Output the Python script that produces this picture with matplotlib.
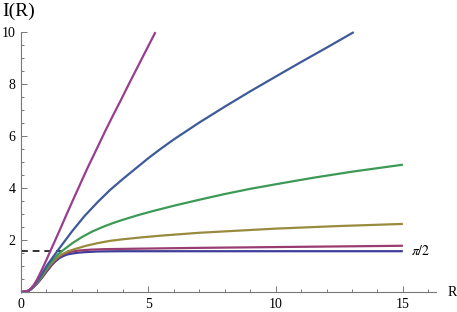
import numpy as np
import matplotlib
matplotlib.use("Agg")
import matplotlib.pyplot as plt
from matplotlib.ticker import MultipleLocator

# Data
r_navy = [0, 0.15, 0.3, 0.4, 0.5, 0.6, 0.7, 0.85, 1.0, 1.1, 1.21, 1.35, 1.5, 1.65, 1.8, 2.0, 2.25, 2.5, 3.0, 3.5, 4.0, 15.0]
i_navy = [0, 0.012, 0.05, 0.11, 0.2, 0.29, 0.4, 0.58, 0.78, 0.9, 1.04, 1.18, 1.3, 1.38, 1.44, 1.48, 1.515, 1.535, 1.56, 1.567, 1.57, 1.571]

r_magenta = [0, 0.15, 0.3, 0.4, 0.5, 0.6, 0.7, 0.85, 1.0, 1.1, 1.2, 1.35, 1.5, 1.65, 1.8, 2.0, 2.3, 2.72, 3.3, 4.0, 5.47, 7.05, 10.0, 12.5, 15.0]
i_magenta = [0, 0.012, 0.05, 0.12, 0.21, 0.31, 0.42, 0.61, 0.82, 0.95, 1.08, 1.23, 1.36, 1.45, 1.51, 1.56, 1.6, 1.63, 1.65, 1.66, 1.68, 1.70, 1.73, 1.755, 1.78]

r_olive = [0, 0.15, 0.3, 0.4, 0.5, 0.6, 0.7, 0.85, 1.0, 1.15, 1.3, 1.45, 1.6, 1.86, 2.2, 2.6, 3.0, 3.5, 4.0, 4.7, 5.5, 7.0, 8.5, 10.0, 12.5, 15.0]
i_olive = [0, 0.012, 0.05, 0.12, 0.22, 0.33, 0.45, 0.65, 0.87, 1.05, 1.22, 1.35, 1.45, 1.57, 1.68, 1.79, 1.88, 1.97, 2.03, 2.1, 2.17, 2.28, 2.36, 2.44, 2.54, 2.62]

r_green = [0, 0.15, 0.3, 0.4, 0.5, 0.6, 0.7, 0.85, 1.0, 1.15, 1.3, 1.45, 1.6, 2.0, 2.4, 2.8, 3.2, 3.6, 4.0, 4.6, 5.2, 6.0, 7.0, 8.0, 9.0, 10.2, 11.5, 13.0, 15.0]
i_green = [0, 0.012, 0.05, 0.12, 0.23, 0.35, 0.48, 0.69, 0.92, 1.12, 1.3, 1.45, 1.57, 1.87, 2.12, 2.33, 2.5, 2.65, 2.78, 2.96, 3.12, 3.32, 3.55, 3.77, 3.97, 4.18, 4.4, 4.63, 4.9]

r_blue = [0, 0.15, 0.3, 0.4, 0.5, 0.6, 0.7, 0.85, 1.0, 1.2, 1.42, 2.0, 2.5, 3.0, 3.5, 4.0, 4.5, 5.0, 5.5, 6.0, 7.0, 8.0, 9.0, 10.2, 11.0, 12.0, 13.07]
i_blue = [0, 0.012, 0.05, 0.13, 0.24, 0.37, 0.52, 0.75, 1.0, 1.27, 1.57, 2.33, 2.93, 3.45, 3.93, 4.35, 4.75, 5.15, 5.52, 5.87, 6.52, 7.13, 7.72, 8.4, 8.85, 9.4, 10.0]

r_purple = [0, 0.15, 0.3, 0.4, 0.5, 0.6, 0.7, 0.8, 0.9, 1.0, 1.14, 1.3, 1.51, 1.76, 2.0, 2.3, 2.6, 2.95, 3.31, 3.6, 3.92, 4.25, 4.6, 4.95, 5.28]
i_purple = [0, 0.015, 0.06, 0.15, 0.27, 0.43, 0.62, 0.82, 1.03, 1.24, 1.55, 1.9, 2.36, 2.92, 3.45, 4.1, 4.75, 5.46, 6.2, 6.77, 7.38, 8.03, 8.7, 9.37, 10.0]

x_ticks = [0, 5, 10, 15]
y_ticks = [2, 4, 6, 8, 10]
dash_end = 2.0
asym = np.pi / 2

colors = {
    "navy": (0.2472, 0.24, 0.6),
    "magenta": (0.6, 0.24, 0.442893),
    "olive": (0.6, 0.547014, 0.24),
    "green": (0.24, 0.6, 0.33692),
    "blue": (0.24, 0.353173, 0.6),
    "purple": (0.6, 0.24, 0.563266),
}

serif = ["Liberation Serif", "DejaVu Serif"]

fig = plt.figure(figsize=(4.57, 3.12), dpi=100)
ax = fig.add_axes([0.046, 0.064, 0.908, 0.833])

ax.plot([0, dash_end], [asym, asym], color="#333333", lw=1.4, ls=(0, (3.5, 2.5)), zorder=1, clip_on=False)

series = [
    (r_navy, i_navy, "navy"),
    (r_magenta, i_magenta, "magenta"),
    (r_olive, i_olive, "olive"),
    (r_green, i_green, "green"),
    (r_blue, i_blue, "blue"),
    (r_purple, i_purple, "purple"),
]
for r, v, c in series:
    ax.plot(r, v, color=colors[c], lw=1.6, zorder=2, clip_on=False,
            solid_capstyle="butt", solid_joinstyle="round")

ax.set_xlim(0, 16.3)
ax.set_ylim(0, 10)
ax.spines["top"].set_visible(False)
ax.spines["right"].set_visible(False)
for s in ("left", "bottom"):
    ax.spines[s].set_color("#777777")
    ax.spines[s].set_linewidth(0.8)

ax.set_xticks(x_ticks)
ax.set_yticks(y_ticks)
ax.xaxis.set_minor_locator(MultipleLocator(1))
ax.yaxis.set_minor_locator(MultipleLocator(0.5))
ax.tick_params(which="both", direction="in", color="#777777", width=0.7)
ax.tick_params(which="major", length=4)
ax.tick_params(which="minor", length=2.2)
ax.tick_params(axis="x", pad=4)
ax.tick_params(axis="y", pad=4)
for lab in ax.get_xticklabels() + ax.get_yticklabels():
    lab.set_fontfamily(serif)
    lab.set_fontsize(10)

fig.text(2 / 457, 1 - 11 / 312, "I(R)", family=serif, fontsize=14, ha="left", va="center")
fig.text(452 / 457, 1 - 293 / 312, "R", family=serif, fontsize=10, ha="center", va="center")
ax.text(15.3, asym, r"$\pi/2$", fontsize=10, ha="left", va="center",
        math_fontfamily="stix")

fig.savefig("out.png", dpi=100)
